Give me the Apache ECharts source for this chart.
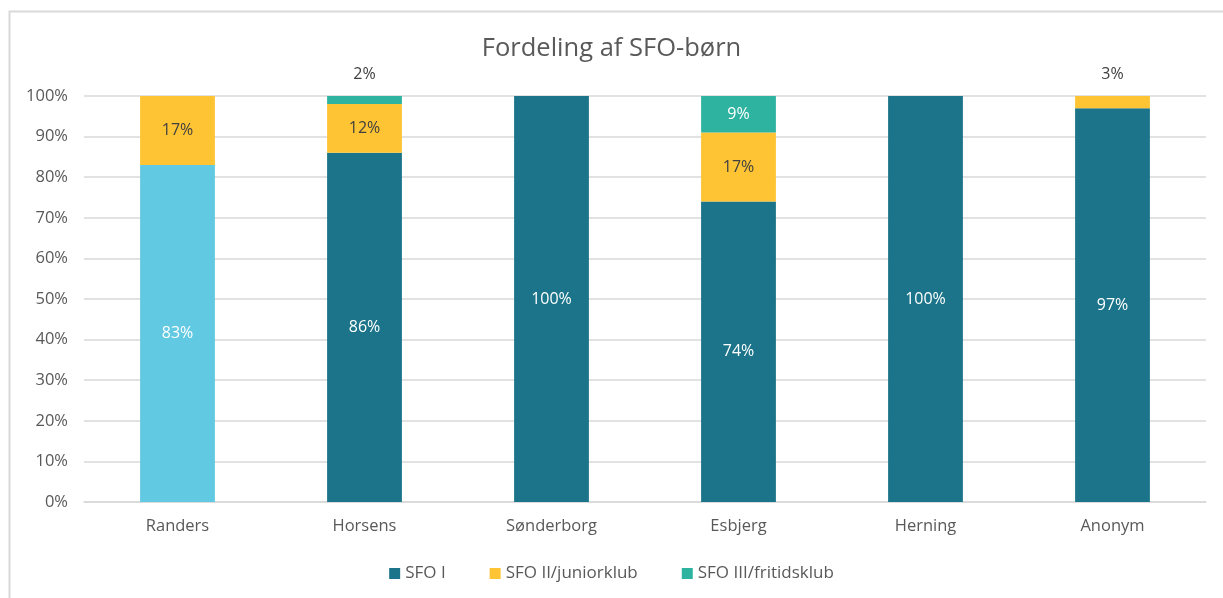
<!DOCTYPE html>
<html>
<head>
<meta charset="utf-8">
<script src="https://cdn.jsdelivr.net/npm/echarts@6/dist/echarts.min.js"></script>
<style>
  html, body { margin: 0; padding: 0; background: #fff; }
  #main { width: 1223px; height: 598px; }
</style>
</head>
<body>
<div id="main"></div>
<script>
const categories = ["Randers", "Horsens", "Sønderborg", "Esbjerg", "Herning", "Anonym"];
const sfo1 = [83, 86, 100, 74, 100, 97];
const sfo2 = [17, 12, null, 17, null, 3];
const sfo3 = [null, 2, null, 9, null, null];

const textColor = "#595959";
const font = "Open Sans";

// Randers is drawn in a lighter blue in the original
const sfo1Data = sfo1.map((v, i) =>
  i === 0 ? { value: v, itemStyle: { color: "#62C9E3" } } : v
);
// small top segments get their label above the bar
const outside = (arr, idxs) =>
  arr.map((v, i) =>
    idxs.includes(i)
      ? { value: v, label: { position: "top", distance: 14, color: "#404040" } }
      : v
  );

const chart = echarts.init(document.getElementById("main"));
chart.setOption({
  animation: false,
  textStyle: { fontFamily: font },
  graphic: [
    {
      type: "rect",
      shape: { x: 9.5, y: 11.5, width: 1230, height: 600 },
      style: { fill: "none", stroke: "#D9D9D9", lineWidth: 2 },
      silent: true,
    },
  ],
  title: {
    text: "Fordeling af SFO-børn",
    left: "center",
    top: 31,
    textStyle: { fontFamily: font, fontSize: 25.5, fontWeight: "normal", color: textColor },
  },
  legend: {
    bottom: 11,
    left: "center",
    itemWidth: 11,
    itemHeight: 11,
    itemGap: 44,
    icon: "rect",
    textStyle: { fontFamily: font, fontSize: 17, color: textColor },
  },
  grid: { left: 84, right: 17, top: 96, bottom: 96 },
  xAxis: {
    type: "category",
    data: categories,
    axisLine: { show: true, lineStyle: { color: "#D9D9D9", width: 1.5 } },
    axisTick: { show: false },
    axisLabel: { fontFamily: font, fontSize: 16.5, color: textColor, margin: 16 },
  },
  yAxis: {
    type: "value",
    min: 0,
    max: 100,
    interval: 10,
    axisLine: { show: false },
    axisTick: { show: false },
    axisLabel: { formatter: "{value}%", fontFamily: font, fontSize: 16.5, color: textColor, margin: 16 },
    splitLine: { lineStyle: { color: "#D9D9D9", width: 1.5 } },
  },
  series: [
    {
      name: "SFO I",
      type: "bar",
      stack: "total",
      barWidth: "40%",
      data: sfo1Data,
      itemStyle: { color: "#1B7489" },
      label: { show: true, position: "inside", formatter: "{c}%", color: "#fff", fontSize: 16, fontFamily: font },
    },
    {
      name: "SFO II/juniorklub",
      type: "bar",
      stack: "total",
      data: outside(sfo2, [5]),
      itemStyle: { color: "#FFC434" },
      label: { show: true, position: "inside", formatter: "{c}%", color: "#404040", fontSize: 16, fontFamily: font },
    },
    {
      name: "SFO III/fritidsklub",
      type: "bar",
      stack: "total",
      data: outside(sfo3, [1]),
      itemStyle: { color: "#2FB3A1" },
      label: { show: true, position: "inside", formatter: "{c}%", color: "#fff", fontSize: 16, fontFamily: font },
    },
  ],
});
</script>
</body>
</html>
